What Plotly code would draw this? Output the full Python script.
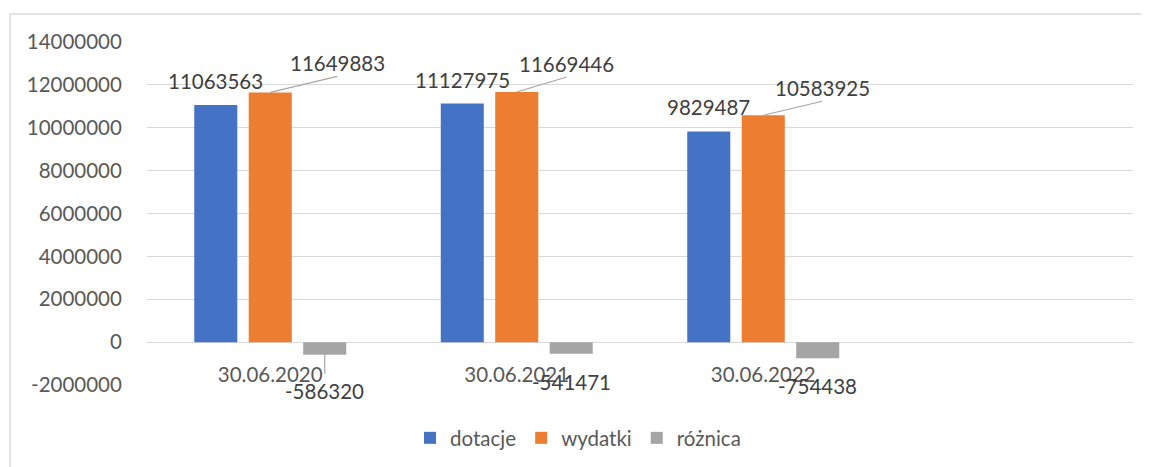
import plotly.graph_objects as go

# ---------------- data ----------------
categories = ["30.06.2020", "30.06.2021", "30.06.2022"]
series_names = ["dotacje", "wydatki", "różnica"]
dotacje = [11063563, 11127975, 9829487]
wydatki = [11649883, 11669446, 10583925]
roznica = [-586320, -541471, -754438]
y_tick_vals = [-2000000, 0, 2000000, 4000000, 6000000, 8000000, 10000000, 12000000, 14000000]
y_tick_text = ["-2000000", "0", "2000000", "4000000", "6000000", "8000000", "10000000", "12000000", "14000000"]

# ---------------- style / layout ----------------
PAGE_OFF = 8  # default body margin of the html page
W, H = 1149 - PAGE_OFF, 467 - PAGE_OFF
# plot area in page pixels: x 147..1133, y 42..385
ML = 147 - PAGE_OFF
MT = 42 - PAGE_OFF
MR = W - (1133 - PAGE_OFF)
MB = H - (385 - PAGE_OFF)
BARGAP = 0.337
BARGROUPGAP = 0.21
N_SLOTS = 4  # category axis keeps an empty fourth slot
COLORS = ["#4472C4", "#ED7D31", "#A5A5A5"]
TEXT = "#595959"
LABEL = "#404040"
GRID = "#D9D9D9"
FONT = "Lato"
FS = 20.5

plot_w = W - ML - MR
plot_h = H - MT - MB
cat_w = plot_w / N_SLOTS
slot = cat_w * (1 - BARGAP) / 3

# label offsets (pixels) for the leader-line labels
orange_label_offsets = [(67, -16), (50, -15), (59, -14)]

fig = go.Figure()
for name, vals, col in zip(series_names, [dotacje, wydatki, roznica], COLORS):
    fig.add_trace(go.Bar(x=categories, y=vals, name=name, marker_color=col,
                         marker_line_width=0))

annotations = []
for c, v in zip(categories, dotacje):
    annotations.append(dict(x=c, y=v, xref="x", yref="y", text=str(v), showarrow=False,
                            xshift=-slot, yshift=24, font=dict(family=FONT, size=FS, color=LABEL)))
for (c, v), (dx, dy) in zip(zip(categories, wydatki), orange_label_offsets):
    annotations.append(dict(x=c, y=v, xref="x", yref="y", text=str(v), showarrow=True,
                            arrowhead=0, arrowwidth=1.2, arrowcolor="#A6A6A6",
                            ax=dx, ay=dy, xanchor="center", yanchor="bottom", borderpad=0,
                            font=dict(family=FONT, size=FS, color=LABEL)))
for i, (c, v) in enumerate(zip(categories, roznica)):
    if i == 0:
        annotations.append(dict(x=c, y=v, xref="x", yref="y", text=str(v), showarrow=True,
                                arrowhead=0, arrowwidth=1.2, arrowcolor="#A6A6A6",
                                ax=0, ay=19, xanchor="center", yanchor="top", borderpad=4,
                                xshift=slot,
                                font=dict(family=FONT, size=FS, color=LABEL)))
    else:
        annotations.append(dict(x=c, y=v, xref="x", yref="y", text=str(v), showarrow=False,
                                xshift=slot, yshift=-28,
                                font=dict(family=FONT, size=FS, color=LABEL)))

# page-pixel -> paper coordinate helpers
px_x = lambda p: (p - PAGE_OFF - ML) / plot_w
px_y = lambda p: (H - MB - (p - PAGE_OFF)) / plot_h

# outer chart border (left and top visible)
shapes = [dict(type="rect", xref="paper", yref="paper",
               x0=px_x(10), x1=px_x(1170), y0=px_y(490), y1=px_y(14),
               line=dict(color=GRID, width=1.5), fillcolor="rgba(0,0,0,0)", layer="below")]

fig.update_layout(
    width=W, height=H,
    margin=dict(l=ML, r=MR, t=MT, b=MB, autoexpand=False),
    paper_bgcolor="white", plot_bgcolor="white",
    barmode="group", bargap=BARGAP, bargroupgap=BARGROUPGAP,
    font=dict(family=FONT, size=FS, color=TEXT),
    showlegend=True,
    legend=dict(orientation="h", x=px_x(578), xanchor="center", y=px_y(438), yanchor="middle",
                font=dict(family=FONT, size=FS, color=TEXT), traceorder="normal"),
    annotations=annotations,
    shapes=shapes,
    xaxis=dict(type="category", range=[-0.5, N_SLOTS - 0.5], anchor="free",
               position=2 / 16, showgrid=False, zeroline=False, showline=False,
               ticks="outside", ticklen=14, tickcolor="rgba(0,0,0,0)",
               tickfont=dict(family=FONT, size=FS, color=TEXT)),
    yaxis=dict(range=[-2000000, 14000000], tickvals=y_tick_vals, ticktext=y_tick_text,
               showgrid=True, gridcolor=GRID, gridwidth=1.3, zeroline=True,
               zerolinecolor=GRID, zerolinewidth=1.3, showline=False,
               ticks="outside", ticklen=20, tickcolor="rgba(0,0,0,0)",
               tickfont=dict(family=FONT, size=FS, color=TEXT)),
)

fig.write_html("out.html")
